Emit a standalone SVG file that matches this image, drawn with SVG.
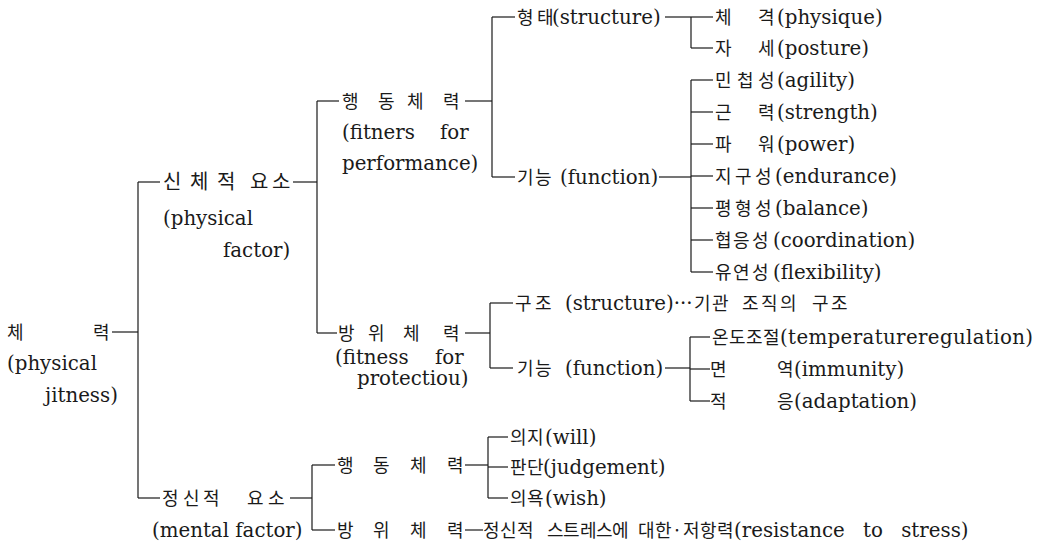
<svg xmlns="http://www.w3.org/2000/svg" width="1056" height="549" viewBox="0 0 1056 549">
<style>
.k{font-family:"Noto Sans CJK KR","Noto Sans",sans-serif;font-size:18px;fill:#1a1a1a}
.kb{font-family:"Noto Sans CJK KR","Noto Sans",sans-serif;font-size:20px;fill:#1a1a1a}
.e{font-family:"DejaVu Serif","Liberation Serif",serif;font-size:19.8px;fill:#1a1a1a}
.c line{stroke:#1a1a1a;stroke-width:1.2}
</style>
<rect width="1056" height="549" fill="#fff"/>
<g class="c" id="connectors">
<line x1="112" y1="332" x2="138" y2="332"/>
<line x1="138" y1="182" x2="138" y2="498"/>
<line x1="138" y1="182" x2="160" y2="182"/>
<line x1="293" y1="182" x2="317" y2="182"/>
<line x1="317" y1="101" x2="317" y2="333"/>
<line x1="317" y1="101" x2="339" y2="101"/>
<line x1="465" y1="101" x2="492" y2="101"/>
<line x1="492" y1="17" x2="492" y2="177"/>
<line x1="492" y1="17" x2="515" y2="17"/>
<line x1="665" y1="17" x2="691" y2="17"/>
<line x1="691" y1="17" x2="691" y2="48"/>
<line x1="691" y1="17" x2="713" y2="17"/>
<line x1="691" y1="48" x2="713" y2="48"/>
<line x1="492" y1="177" x2="515" y2="177"/>
<line x1="659" y1="177" x2="691" y2="177"/>
<line x1="691" y1="80" x2="691" y2="272"/>
<line x1="691" y1="80" x2="713" y2="80"/>
<line x1="691" y1="112" x2="713" y2="112"/>
<line x1="691" y1="144" x2="713" y2="144"/>
<line x1="691" y1="176" x2="713" y2="176"/>
<line x1="691" y1="208" x2="713" y2="208"/>
<line x1="691" y1="240" x2="713" y2="240"/>
<line x1="691" y1="272" x2="713" y2="272"/>
<line x1="317" y1="333" x2="337" y2="333"/>
<line x1="465" y1="333" x2="490" y2="333"/>
<line x1="490" y1="303" x2="490" y2="368"/>
<line x1="490" y1="303" x2="513" y2="303"/>
<line x1="490" y1="368" x2="513" y2="368"/>
<line x1="665" y1="368" x2="690" y2="368"/>
<line x1="690" y1="337" x2="690" y2="401"/>
<line x1="690" y1="337" x2="710" y2="337"/>
<line x1="690" y1="369" x2="710" y2="369"/>
<line x1="690" y1="401" x2="710" y2="401"/>
<line x1="138" y1="498" x2="160" y2="498"/>
<line x1="290" y1="498" x2="312" y2="498"/>
<line x1="312" y1="465" x2="312" y2="530"/>
<line x1="312" y1="465" x2="335" y2="465"/>
<line x1="465" y1="465" x2="488" y2="465"/>
<line x1="488" y1="437" x2="488" y2="498"/>
<line x1="488" y1="437" x2="508" y2="437"/>
<line x1="488" y1="467" x2="508" y2="467"/>
<line x1="488" y1="498" x2="508" y2="498"/>
<line x1="312" y1="530" x2="335" y2="530"/>
<line x1="465" y1="530" x2="483" y2="530"/>
</g>
<g id="n-root">
<text class="k" x="7 50 93" y="339">체 력</text>
<text class="e" x="7" y="370">(physical</text>
<text class="e" x="45" y="402">jitness)</text>
</g>
<g id="n-physical">
<text class="kb" x="163 180 190 205 217 238 250 272" y="189">신 체 적 요소</text>
<text class="e" x="163" y="225">(physical</text>
<text class="e" x="223" y="257">factor)</text>
</g>
<g id="n-performance">
<text class="k" x="342 360 378 395 407 425 443" y="108">행 동 체 력</text>
<text class="e"><tspan x="342" y="139">(fitners</tspan><tspan x="440" y="139">for</tspan></text>
<text class="e" x="342" y="170">performance)</text>
</g>
<g id="n-form">
<text class="k" x="517 530 537" y="24">형 태</text>
<text class="e" x="552" y="24">(structure)</text>
</g>
<g id="n-function1">
<text class="k" x="517 535" y="184">기능</text>
<text class="e" x="560" y="184">(function)</text>
</g>
<g id="n-physique"><text class="k" x="715 735 758" y="24">체 격</text><text class="e" x="777" y="24">(physique)</text></g>
<g id="n-posture"><text class="k" x="715 735 758" y="55">자 세</text><text class="e" x="777" y="55">(posture)</text></g>
<g id="n-agility"><text class="k" x="715 737 758" y="87">민첩성</text><text class="e" x="777" y="87">(agility)</text></g>
<g id="n-strength"><text class="k" x="715 735 758" y="119">근 력</text><text class="e" x="777" y="119">(strength)</text></g>
<g id="n-power"><text class="k" x="715 735 758" y="151">파 워</text><text class="e" x="777" y="151">(power)</text></g>
<g id="n-endurance"><text class="k" x="715 735 755" y="183">지구성</text><text class="e" x="775" y="183">(endurance)</text></g>
<g id="n-balance"><text class="k" x="715 735 755" y="215">평형성</text><text class="e" x="775" y="215">(balance)</text></g>
<g id="n-coordination"><text class="k" x="715 733 752" y="247">협응성</text><text class="e" x="773" y="247">(coordination)</text></g>
<g id="n-flexibility"><text class="k" x="715 733 752" y="279">유연성</text><text class="e" x="773" y="279">(flexibility)</text></g>
<g id="n-protection">
<text class="k" x="338 355 368 385 403 425 443" y="340">방 위 체 력</text>
<text class="e"><tspan x="335" y="364">(fitness</tspan><tspan x="435" y="364">for</tspan></text>
<text class="e" x="357" y="385">protectiou)</text>
</g>
<g id="n-structure2">
<text class="k" x="515 535" y="310">구조</text>
<text class="e" x="565" y="310">(structure)···</text>
<text class="k" x="694 712 730 742 761 780 798 812 831" y="310">기관 조직의 구조</text>
</g>
<g id="n-function2">
<text class="k" x="517 535" y="375">기능</text>
<text class="e" x="565" y="375">(function)</text>
</g>
<g id="n-temperature"><text class="k" x="712 729 746 763" y="344">온도조절</text><text class="e" x="780" y="344" textLength="253">(temperatureregulation)</text></g>
<g id="n-immunity"><text class="k" x="710 740 777" y="376">면 역</text><text class="e" x="794" y="376">(immunity)</text></g>
<g id="n-adaptation"><text class="k" x="710 740 777" y="408">적 응</text><text class="e" x="794" y="408">(adaptation)</text></g>
<g id="n-mental">
<text class="k" x="162 183 203 225 247 268" y="505">정신적 요소</text>
<text class="e" x="152" y="537">(mental factor)</text>
</g>
<g id="n-mperformance">
<text class="k" x="337 355 373 390 410 428 447" y="472">행 동 체 력</text>
</g>
<g id="n-will"><text class="k" x="510 527" y="444">의지</text><text class="e" x="545" y="444">(will)</text></g>
<g id="n-judgement"><text class="k" x="510 527" y="474">판단</text><text class="e" x="543" y="474">(judgement)</text></g>
<g id="n-wish"><text class="k" x="510 527" y="505">의욕</text><text class="e" x="545" y="505">(wish)</text></g>
<g id="n-mprotection">
<text class="k" x="337 355 373 390 410 428 447" y="537">방 위 체 력</text>
<text class="k" x="483 500 517 535 547 563 580 596 612 630 638 655 672 678 683 700 717" y="537">정신적 스트레스에 대한· 저항력</text>
<text class="e" x="734" y="537" word-spacing="12">(resistance to stress)</text>
</g>
</svg>
